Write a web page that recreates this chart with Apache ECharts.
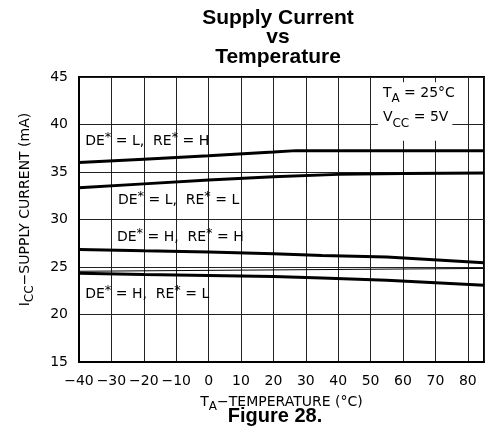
<!DOCTYPE html>
<html><head><meta charset="utf-8">
<script src="https://cdn.jsdelivr.net/npm/echarts@6/dist/echarts.min.js"></script>
<style>html,body{margin:0;padding:0;background:#fff}#c{width:489px;height:448px}</style>
</head><body><div id="c"></div>
<script>
// ---- data ----
const titleText = 'Supply Current\nvs\nTemperature';
const figureCaption = 'Figure 28.';
const xMin = -40, xMax = 85, xStep = 10;
const yMin = 15, yMax = 45, yStep = 5;

const tempLH = [-40, -20, 0, 20, 27, 50, 85];
const currLH = [36.0, 36.35, 36.7, 37.1, 37.25, 37.25, 37.25];
const tempLL = [-40, -20, 0, 20, 40, 60, 85];
const currLL = [33.35, 33.75, 34.15, 34.5, 34.75, 34.85, 34.9];
const tempHH = [-40, -20, 0, 20, 35, 55, 85];
const currHH = [26.85, 26.7, 26.58, 26.4, 26.2, 26.05, 25.45];
const tempHL = [-40, -20, 0, 20, 35, 55, 85];
const currHL = [24.33, 24.2, 24.1, 24.0, 23.85, 23.6, 23.08];
const tempExtra = [-40, 85];
const currExtra = [24.55, 24.85];

// curve labels: [text, T, I]
const curveLabels = [
  ['{m|DE}{p|*}{m| = L,  RE}{p|*}{m| = H}', -38.1, 38.26],
  ['{m|DE}{p|*}{m| = L,  RE}{p|*}{m| = L}', -28.0, 32.05],
  ['{m|DE}{p|*}{m| = H,  RE}{p|*}{m| = H}', -28.3, 28.16],
  ['{m|DE}{p|*}{m| = H,  RE}{p|*}{m| = L}', -38.1, 22.16]
];
const condLines = [
  ['{m|T}{s|A}{m| = 25°C}', 53.8, 43.3],
  ['{m|V}{s|CC}{m| = 5V}', 53.8, 40.7]
];

const F = 'DejaVu Sans';
const pair = (xs, ys) => xs.map((x, i) => [x, ys[i]]);
const minus = v => String(v).replace('-', '\u2212');

const chart = echarts.init(document.getElementById('c'), null, {renderer: 'canvas'});
const lineSeries = (data, w) => ({
  type: 'line', data, symbol: 'none', smooth: false, silent: true,
  lineStyle: {color: '#000', width: w}, z: 3
});
chart.setOption({
  animation: false,
  backgroundColor: '#fff',
  grid: {left: 79, right: 5, top: 77, bottom: 86, show: true, borderColor: '#000', borderWidth: 2,
         containLabel: false, outerBoundsMode: 'none'},
  xAxis: {
    type: 'value', min: xMin, max: xMax, interval: xStep,
    axisLine: {show: true, onZero: false, lineStyle: {color: '#000', width: 2}},
    axisTick: {show: false},
    splitLine: {show: true, lineStyle: {color: '#222', width: 1}},
    axisLabel: {margin: 12, fontFamily: F, fontSize: 14, color: '#000',
      formatter: v => (v > 80 ? '' : minus(v))},
    name: '{m|T}{s|A}{m|\u2212TEMPERATURE (°C)}',
    nameLocation: 'middle', nameGap: 33,
    nameTextStyle: {rich: {
      m: {fontFamily: F, fontSize: 14, lineHeight: 14, verticalAlign: 'top', color: '#000'},
      s: {fontFamily: F, fontSize: 12, lineHeight: 26, verticalAlign: 'top', padding: [6, 0, 0, 0], color: '#000'}
    }}
  },
  yAxis: {
    type: 'value', min: yMin, max: yMax, interval: yStep,
    axisLine: {show: true, onZero: false, lineStyle: {color: '#000', width: 2}},
    axisTick: {show: false},
    splitLine: {show: true, lineStyle: {color: '#222', width: 1}},
    axisLabel: {margin: 11, fontFamily: F, fontSize: 14, color: '#000'},
    name: '{m|I}{s|CC}{m|\u2212SUPPLY CURRENT (mA)}',
    nameLocation: 'middle', nameGap: 37,
    nameTextStyle: {padding: [0, 0, 0, 20], rich: {
      m: {fontFamily: F, fontSize: 14, lineHeight: 14, verticalAlign: 'top', color: '#000'},
      s: {fontFamily: F, fontSize: 12, lineHeight: 24, verticalAlign: 'top', padding: [6, 0, 0, 0], color: '#000'}
    }}
  },
  series: [
    lineSeries(pair(tempLH, currLH), 3),
    lineSeries(pair(tempLL, currLL), 3),
    lineSeries(pair(tempHH, currHH), 3),
    lineSeries(pair(tempHL, currHL), 3),
    lineSeries(pair(tempExtra, currExtra), 1)
  ]
});

const supRich = {
  m: {fontFamily: F, fontSize: 14, lineHeight: 20, verticalAlign: 'middle', fill: '#000', color: '#000'},
  p: {fontFamily: F, fontSize: 13, lineHeight: 13, verticalAlign: 'top', fill: '#000', color: '#000'}
};
const subRich = {
  m: {fontFamily: F, fontSize: 14, lineHeight: 14, verticalAlign: 'top', fill: '#000', color: '#000'},
  s: {fontFamily: F, fontSize: 12, lineHeight: 28, verticalAlign: 'top', padding: [7, 0, 0, 0], fill: '#000', color: '#000'}
};
const toPx = (x, y) => chart.convertToPixel({gridIndex: 0}, [x, y]);
const graphics = [];
graphics.push({type: 'text', z: 10, style: {text: titleText, x: 278, y: 8, align: 'center', verticalAlign: 'top',
  font: 'bold 21px "Liberation Sans", Arial, sans-serif', lineHeight: 19.5, fill: '#000'}});
graphics.push({type: 'text', z: 10, style: {text: figureCaption, x: 275, y: 406, align: 'center', verticalAlign: 'top',
  font: 'bold 20px "Liberation Sans", Arial, sans-serif', fill: '#000'}});
curveLabels.forEach(([t, x, y]) => {
  const p = toPx(x, y);
  graphics.push({type: 'text', z: 10, style: {text: t, rich: supRich, x: p[0], y: p[1], align: 'left', verticalAlign: 'middle'}});
});
const condPad = [[4, 8, 0, 10], [0, 4, 2, 5]];
condLines.forEach(([t, x, y], i) => {
  const p = toPx(x, y);
  const pad = condPad[i];
  graphics.push({type: 'text', z: 10, style: {text: t, rich: subRich, x: p[0] - pad[3], y: p[1] - 7 - pad[0],
    align: 'left', verticalAlign: 'top', backgroundColor: '#fff', padding: pad}});
});
chart.setOption({graphic: graphics});
</script></body></html>
